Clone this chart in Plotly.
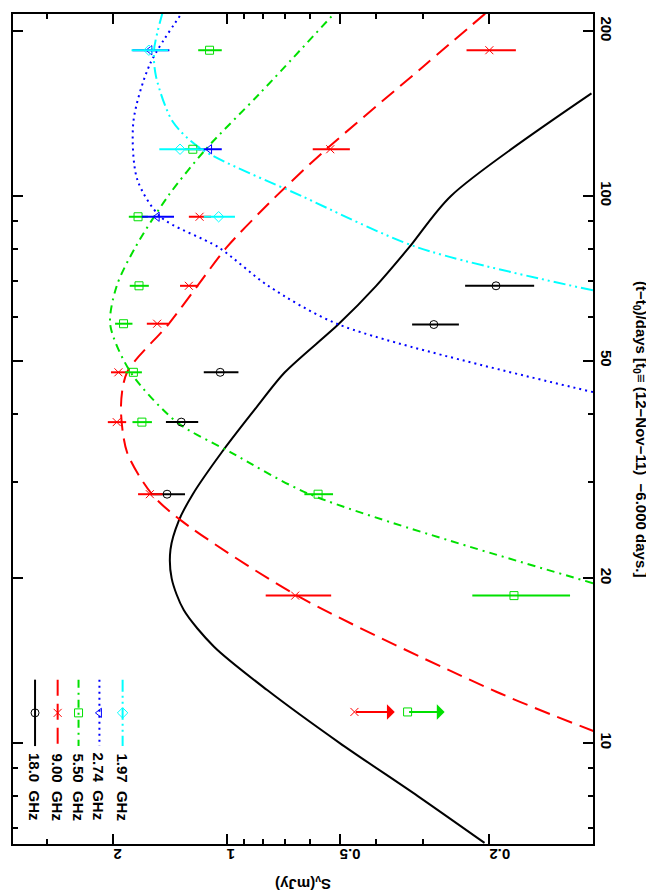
import numpy as np
import plotly.graph_objects as go

# ---- observed points: time (days), flux (mJy), error (mJy)
t18 = [28.5, 38.6, 47.6, 58.2, 68.5]
f18 = [1.44, 1.32, 1.04, 0.281, 0.192]
e18 = [0.15, 0.13, 0.11, 0.04, 0.04]

t9 = [18.6, 28.5, 38.6, 47.6, 58.4, 68.5, 91.6, 121.7, 184.6]
f9 = [0.657, 1.60, 1.96, 1.94, 1.53, 1.26, 1.18, 0.53, 0.20]
e9 = [0.13, 0.12, 0.11, 0.09, 0.10, 0.07, 0.08, 0.06, 0.03]

t55 = [18.6, 28.5, 38.6, 47.6, 58.4, 68.5, 91.6, 121.7, 184.6]
f55 = [0.172, 0.571, 1.68, 1.77, 1.88, 1.71, 1.72, 1.23, 1.11]
e55 = [0.05, 0.05, 0.10, 0.09, 0.10, 0.10, 0.10, 0.06, 0.08]

t274 = [91.6, 121.7, 184.6]
f274 = [1.53, 1.11, 1.60]
e274 = [0.15, 0.08, 0.18]

t197 = [91.6, 121.7, 184.6]
f197 = [1.05, 1.33, 1.61]
e197 = [0.10, 0.18, 0.18]

# upper limits at t=11.4 (arrow from value to lower flux)
ul_t = 11.4
ul9 = [0.457, 0.357]
ul55 = [0.33, 0.263]

# ---- model curves
mt18 = [6.57, 8, 10, 12.5, 15, 17.5, 20, 22.6, 25.5, 28.5, 34.0, 41.2, 47.6, 58.2, 68.5, 80.5, 100, 153.9]
mf18 = [0.206, 0.31, 0.50, 0.78, 1.08, 1.30, 1.40, 1.41, 1.34, 1.23, 1.03, 0.83, 0.70, 0.505, 0.40, 0.327, 0.253, 0.107]

mt9 = [10.5, 12.4, 18.6, 25.5, 28.5, 34.0, 41.2, 47.6, 58.2, 68.5, 80.5, 100, 121.7, 174, 218]
mf9 = [0.105, 0.191, 0.649, 1.32, 1.58, 1.84, 1.91, 1.84, 1.43, 1.195, 1.0, 0.737, 0.543, 0.295, 0.201]

mt55 = [19.6, 28.5, 34.0, 38.6, 47.6, 58.2, 68.5, 80.5, 100, 121.7, 153.9, 220]
mf55 = [0.106, 0.601, 0.975, 1.357, 1.80, 2.04, 1.96, 1.75, 1.43, 1.136, 0.816, 0.503]

mt274 = [43.8, 58.2, 68.5, 80.5, 91.6, 107.4, 136.6, 174, 220]
mf274 = [0.106, 0.503, 0.775, 1.05, 1.50, 1.73, 1.77, 1.60, 1.29]

mt197 = [67.2, 80.5, 100, 121.7, 136.6, 165, 184.6, 220]
mf197 = [0.106, 0.31, 0.633, 1.165, 1.39, 1.54, 1.56, 1.47]

labels = ["18.0  GHz", "9.00  GHz", "5.50  GHz", "2.74  GHz", "1.97  GHz"]
colors = ["black", "red", "#00e000", "blue", "cyan"]
dashes = ["solid", "16px,8px", "8px,5px,2px,5px", "2px,4px", "12px,4px,2px,4px,2px,4px"]
symbols = ["circle-open", "x-thin-open", "square-open", "triangle-left-open", "diamond-open"]

obs = [(t18, f18, e18), (t9, f9, e9), (t55, f55, e55), (t274, f274, e274), (t197, f197, e197)]
models = [(mt18, mf18), (mt9, mf9), (mt55, mf55), (mt274, mf274), (mt197, mf197)]

fig = go.Figure()
for i in range(5):
    mt, mf = models[i]
    fig.add_trace(go.Scatter(x=mf, y=mt, mode="lines", line_shape="spline",
                             line=dict(color=colors[i], width=2, dash=dashes[i], smoothing=0.8),
                             showlegend=False))
for i in range(5):
    t, f, e = obs[i]
    fig.add_trace(go.Scatter(x=f, y=t, mode="markers",
                             marker=dict(symbol=symbols[i], size=8, color=colors[i],
                                         line=dict(color=colors[i], width=1)),
                             error_x=dict(type="data", array=e, color=colors[i], thickness=2, width=0),
                             showlegend=False))

# upper-limit arrows
for lim, c, s in [(ul9, "red", symbols[1]), (ul55, "#00e000", symbols[2])]:
    fig.add_trace(go.Scatter(x=[lim[0]], y=[ul_t], mode="markers", showlegend=False,
                             marker=dict(symbol=s, size=8, color=c, line=dict(color=c, width=1))))
    fig.add_annotation(x=np.log10(lim[1]), y=np.log10(ul_t), ax=np.log10(lim[0]), ay=np.log10(ul_t),
                       xref="x", yref="y", axref="x", ayref="y", text="", showarrow=True,
                       arrowhead=1, arrowsize=1.3, arrowwidth=2, arrowcolor=c)

# legend drawn on a hidden overlay axis, rotated like the page
leg_x = [0.038, 0.077, 0.113, 0.149, 0.189]
for i in range(5):
    fig.add_trace(go.Scatter(x=[leg_x[i], leg_x[i]], y=[0.198, 0.118], mode="lines",
                             xaxis="x2", yaxis="y2", showlegend=False,
                             line=dict(color=colors[i], width=2, dash=dashes[i])))
    fig.add_trace(go.Scatter(x=[leg_x[i]], y=[0.158], mode="markers", xaxis="x2", yaxis="y2",
                             showlegend=False,
                             marker=dict(symbol=symbols[i], size=8, color=colors[i],
                                         line=dict(color=colors[i], width=1))))
    fig.add_annotation(x=leg_x[i], y=0.112, xref="paper", yref="paper", text="<b>" + labels[i] + "</b>",
                       textangle=90, showarrow=False, xanchor="center", yanchor="top",
                       font=dict(size=15, color="black"))

font = dict(family="Liberation Sans", size=15, color="black")
axis_common = dict(showline=True, linecolor="black", linewidth=2, mirror="ticks",
                   ticks="inside", ticklen=10, tickwidth=1.5, tickcolor="black",
                   showgrid=False, zeroline=False, type="log", tickfont=font)

fig.update_layout(
    width=654, height=894, plot_bgcolor="white", paper_bgcolor="white",
    margin=dict(l=3, r=69, t=6, b=58), font=font,
    xaxis=dict(axis_common, range=[np.log10(3.70), np.log10(0.106)], side="bottom",
               tickvals=[0.2, 0.5, 1, 2], ticktext=["<b>0.2</b>", "<b>0.5</b>", "<b>1</b>", "<b>2</b>"],
               tickangle=180,
               minor=dict(tickvals=[0.3, 0.4, 0.6, 0.7, 0.8, 0.9, 3], ticklen=5,
                          ticks="inside", tickcolor="black")),
    yaxis=dict(axis_common, range=[np.log10(6.54), np.log10(215)], side="right",
               tickvals=[10, 20, 50, 100, 200],
               ticktext=["<b>10</b>", "<b>20</b>", "<b>50</b>", "<b>100</b>", "<b>200</b>"],
               tickangle=90,
               minor=dict(tickvals=[7, 8, 9, 30, 40, 60, 70, 80, 90], ticklen=5,
                          ticks="inside", tickcolor="black")),
    xaxis2=dict(overlaying="x", range=[0, 1], visible=False),
    yaxis2=dict(overlaying="y", range=[0, 1], visible=False),
)

fig.add_annotation(x=0.5, y=0, xref="paper", yref="paper", yshift=-40, showarrow=False,
                   text="<b>S<sub>ν</sub>(mJy)</b>", textangle=180, font=dict(size=15),
                   xanchor="center", yanchor="middle")
fig.add_annotation(x=1, y=0.5, xref="paper", yref="paper", xshift=48, showarrow=False,
                   text="<b>(t−t<sub>0</sub>)/days [t<sub>0</sub>≡ (12−Nov−11)  −6.000 days.]</b>",
                   textangle=90, font=dict(size=15), xanchor="center", yanchor="middle")

fig.write_html("out.html")
